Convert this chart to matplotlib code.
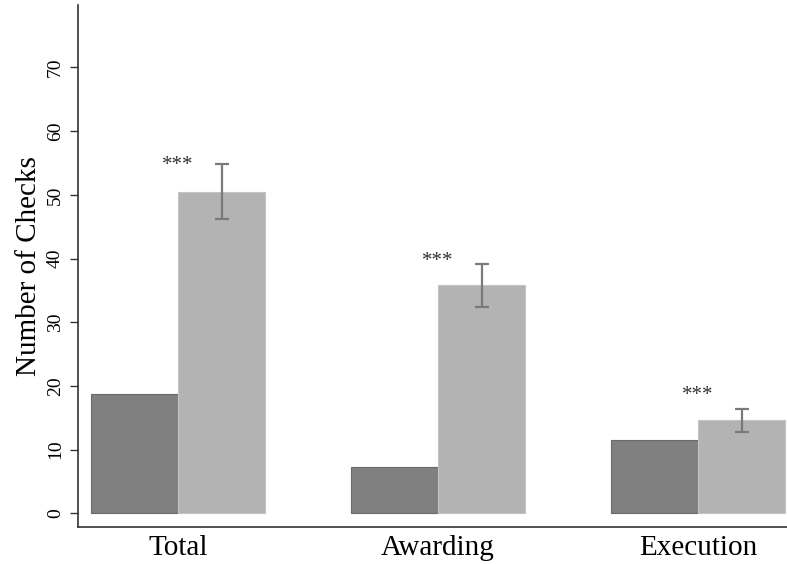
import numpy as np
import matplotlib.pyplot as plt

# data
categories = ["Total", "Awarding", "Execution"]
dark_vals  = [18.8, 7.3, 11.5]
light_vals = [50.5, 35.8, 14.6]
light_err  = [4.3, 3.35, 1.8]
star_y     = [54.6, 39.5, 18.5]
y_ticks    = [0, 10, 20, 30, 40, 50, 60, 70]

plt.rcParams["font.family"] = ["Liberation Serif", "DejaVu Serif"]

fig = plt.figure(figsize=(7.87, 5.64), dpi=100)
ax = fig.add_axes([0.0991, 0.0656, 0.9009, 0.9255])

x = np.arange(len(categories))
w = 0.3346

ax.bar(x - w / 2, dark_vals, width=w, color="#808080",
       edgecolor="#6a6a6a", linewidth=0.8, zorder=2)
ax.bar(x + w / 2, light_vals, width=w, color="#b3b3b3",
       edgecolor="#c4c4c4", linewidth=0.8, zorder=2)
ax.errorbar(x + w / 2, light_vals, yerr=light_err, fmt="none",
            ecolor="#7a7a7a", elinewidth=1.6, capsize=5, capthick=1.6, zorder=3)

# significance stars
for xi, sy in zip(x, star_y):
    ax.text(xi, sy, "***", ha="center", va="center",
            fontsize=15, color="#333333")

ax.set_xlim(-0.3846, 2.342)
ax.set_ylim(-2.15, 79.8)
ax.set_xticks(x)
ax.set_xticklabels(categories, fontsize=21)
ax.tick_params(axis="x", length=0, pad=6)
ax.set_yticks(y_ticks)
ax.set_yticklabels([str(t) for t in y_ticks], fontsize=14,
                   rotation=90, va="center")
ax.tick_params(axis="y", length=6, width=1, color="#333333", pad=4)
ax.set_ylabel("Number of Checks", fontsize=21, labelpad=4)

for s in ["top", "right"]:
    ax.spines[s].set_visible(False)
for s in ["left", "bottom"]:
    ax.spines[s].set_color("#333333")
    ax.spines[s].set_linewidth(1.2)

fig.savefig("out.png", dpi=100)
